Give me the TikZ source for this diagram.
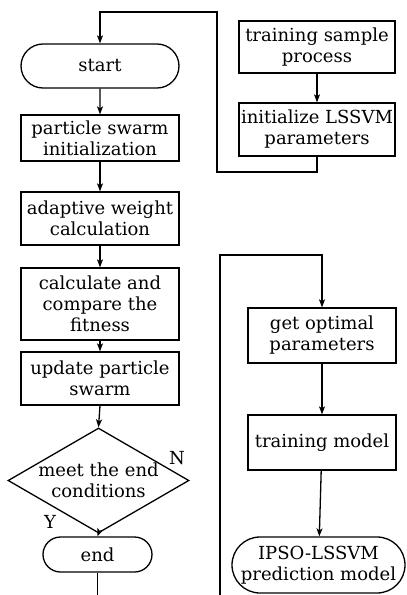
\documentclass[tikz,border=0pt]{standalone}
\usepackage{fontspec}
\setmainfont{DejaVu Serif}
\usetikzlibrary{shapes.misc,shapes.geometric,arrows.meta}
\begin{document}
\begin{tikzpicture}[x=1pt,y=-1pt,
  every node/.style={font=\fontsize{18}{21}\selectfont, align=center, inner sep=0pt},
  box/.style={draw, line width=1.3pt},
  term/.style={draw, line width=1.3pt, rounded rectangle},
  arr/.style={line width=1.3pt, -{Stealth[length=8pt,width=6pt,inset=2pt]}},
  ln/.style={line width=1.3pt}]
\useasboundingbox (0,0) rectangle (407,595);
% left column
\node[term, minimum width=158, minimum height=44] (start) at (100,66) {start};
\node[box, minimum width=158, minimum height=46] (psi) at (100,138) {particle swarm\\initialization};
\node[box, minimum width=158, minimum height=53] (adw) at (100,218.5) {adaptive weight\\calculation};
\node[box, minimum width=158, minimum height=72] (calc) at (100,304) {calculate and\\compare the\\fitness};
\node[box, minimum width=158, minimum height=53] (upd) at (100,378.5) {update particle\\swarm};
\node[draw, line width=1.3pt, diamond, aspect=1.72, minimum width=181, minimum height=105] (dia) at (98.5,480.5) {};
\node (diat) at (dia.center) {meet the end\\conditions};
\node[term, minimum width=109, minimum height=35] (end) at (97.5,554.5) {end};
\node (lN) at (177,458) {N};
\node (lY) at (50,522) {Y};
% right top
\node[box, minimum width=156, minimum height=52] (tsp) at (317,47) {training sample\\process};
\node[box, minimum width=156, minimum height=53] (init) at (317,129.5) {initialize LSSVM\\parameters};
% right bottom
\node[box, minimum width=148, minimum height=55] (gop) at (322,335.5) {get optimal\\parameters};
\node[box, minimum width=148, minimum height=55] (trm) at (322,442.5) {training model};
\node[term, minimum width=173, minimum height=56] (pred) at (318.5,565) {IPSO-LSSVM\\prediction model};
% coordinates
\coordinate (k1) at (217,172);
\coordinate (k2) at (217,12);
\coordinate (e1) at (97.5,595);
\coordinate (r0) at (220,595);
\coordinate (r1) at (220,255);
% connectors
\draw[arr] (init.south) |- (k1) -- (k2) -| (start.north);
\draw[arr] (start) -- (psi);
\draw[arr] (psi) -- (adw);
\draw[arr] (adw) -- (calc);
\draw[arr] (calc) -- (upd);
\draw[arr] (upd.south) -- (dia.north);
\draw[arr] (dia.south) -- (end.north);
\draw[ln] (end.south) -- (e1);
\draw[arr] (tsp) -- (init);
\draw[arr] (r0) -- (r1) -| (gop.north);
\draw[arr] (gop) -- (trm);
\draw[arr] (trm) -- (pred);
\end{tikzpicture}
\end{document}
